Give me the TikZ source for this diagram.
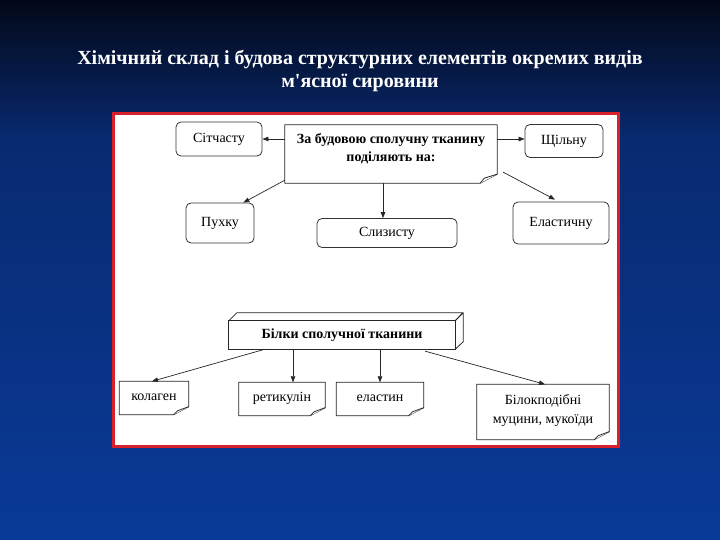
\documentclass[tikz,border=0pt]{standalone}
\usepackage{fontspec}
\setmainfont{Liberation Serif}
\usetikzlibrary{calc,arrows.meta}
\definecolor{bgtop}{HTML}{030818}
\definecolor{bgmid}{HTML}{082A70}
\definecolor{bgbot}{HTML}{0A3A98}
\definecolor{framered}{HTML}{D8202A}
\tikzset{
  rbox/.style={draw=black!80, line width=0.8pt, rounded corners=5pt, fill=white, inner sep=2pt, font=\fontsize{14}{16}\selectfont},
  plainbox/.style={inner sep=2pt, font=\fontsize{14}{16}\selectfont},
  boldlbl/.style={inner sep=2pt, font=\bfseries\fontsize{14}{18}\selectfont},
  arr/.style={-{Triangle[length=6pt,width=4.5pt]}, line width=0.7pt, black!85},
  edge/.style={line width=0.8pt, black!85, fill=white, line join=round},
}
\begin{document}
\begin{tikzpicture}[x=1pt,y=-1pt]
\useasboundingbox (0,0) rectangle (720,540);
\shade[top color=bgtop, bottom color=bgmid] (0,0) rectangle (720,140);
\shade[top color=bgmid, bottom color=bgbot] (0,140) rectangle (720,540);
% title
\node[text=white, font=\bfseries\fontsize{20}{23}\selectfont, align=center] (title) at (360,71)
  {Хімічний склад і будова структурних елементів окремих видів\\м\textquotesingle ясної сировини};
% frame
\draw[framered, line width=3pt, fill=white] (113.5,113.5) rectangle (618.5,446.5);
% top diagram
\node[boldlbl, align=center, minimum width=212pt, minimum height=58pt] (main) at (391,154) {};
\draw[edge] (main.north west) -- (main.north east) -- ($(main.south east)+(0,-9)$) -- ($(main.south east)+(-17,0)$) -- (main.south west) -- cycle;
\draw[edge] ($(main.south east)+(0,-9)$) -- ($(main.south east)+(-13,-5)$) -- ($(main.south east)+(-17,0)$);
\node[boldlbl, align=center] (maintext) at (391,149) {За будовою сполучну тканину\\поділяють на:};

\node[rbox, minimum width=86pt, minimum height=34pt] (sit) at (219,139) {Сітчасту};
\node[rbox, minimum width=78pt, minimum height=33pt] (shch) at (564,141) {Щільну};
\node[rbox, minimum width=68pt, minimum height=40pt] (pukh) at (220,223) {Пухку};
\node[rbox, minimum width=140pt, minimum height=29pt] (sly) at (387,233) {Слизисту};
\node[rbox, minimum width=96pt, minimum height=42pt] (elast) at (561,223) {Еластичну};

\draw[arr] (main.west |- sit) -- (sit.east);
\draw[arr] (main.east |- sit) -- (shch.west |- sit);
\draw[arr] ($(main.south west)+(0,-3)$) -- ($(pukh.north east)+(-11,0)$);
\draw[arr] (main.south -| 383,0) -- (sly.north -| 383,0);
\draw[arr] ($(main.south east)+(6,-11)$) -- ($(elast.north)+(-6,-2)$);

% bottom diagram
\node[boldlbl, minimum width=226pt, minimum height=28pt] (bilky) at (342,335) {};
\draw[edge] (bilky.north west) -- ++(8,-8) -- ++(226,0) -- (bilky.north east) -- cycle;
\draw[edge] (bilky.north east) -- ++(8,-8) -- ++(0,29) -- (bilky.south east) -- cycle;
\draw[edge] (bilky.north west) rectangle (bilky.south east);
\node[boldlbl] (bilkytext) at (bilky) {Білки сполучної тканини};

\newcommand{\foldbox}[1]{%
  \draw[edge] (#1.north west) -- (#1.north east) -- ($(#1.south east)+(0,-8)$) -- ($(#1.south east)+(-15,0)$) -- (#1.south west) -- cycle;
  \draw[edge] ($(#1.south east)+(0,-8)$) -- ($(#1.south east)+(-11,-4)$) -- ($(#1.south east)+(-15,0)$);
}
\node[plainbox, minimum width=69pt, minimum height=33pt] (kol) at (154,398) {};
\node[plainbox, minimum width=86pt, minimum height=33pt] (ret) at (282,399) {};
\node[plainbox, minimum width=87pt, minimum height=33pt] (ela) at (380,399) {};
\node[plainbox, minimum width=132pt, minimum height=55pt] (muc) at (543,412) {};
\foldbox{kol}\foldbox{ret}\foldbox{ela}\foldbox{muc}
\node[plainbox] (koltext) at (154,397) {колаген};
\node[plainbox] (rettext) at (282,398) {ретикулін};
\node[plainbox] (elatext) at (380,398) {еластин};
\node[plainbox, align=center, font=\fontsize{14}{19}\selectfont] (muctext) at (543,410) {Білокподібні\\муцини, мукоїди};

\draw[arr] ($(bilky.south)+(-77,0)$) -- ($(kol.north)+(-2,0)$);
\draw[arr] (bilky.south -| 293,0) -- (ret.north -| 293,0);
\draw[arr] (bilky.south -| 380,0) -- (ela.north -| 380,0);
\draw[arr] ($(bilky.south east)+(-30,2)$) -- ($(muc.north)+(2,0)$);
\end{tikzpicture}
\end{document}
